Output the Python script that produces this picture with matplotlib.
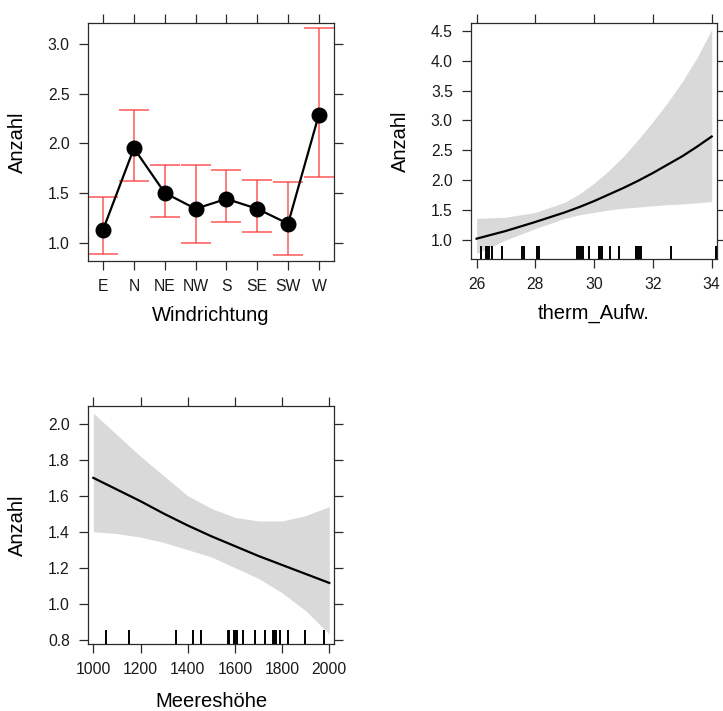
import matplotlib
matplotlib.use("Agg")
import matplotlib.pyplot as plt
from matplotlib.ticker import FormatStrFormatter, MultipleLocator

plt.rcParams["font.family"] = ["Liberation Sans", "DejaVu Sans"]

# Windrichtung effect
wind_dirs = ["E", "N", "NE", "NW", "S", "SE", "SW", "W"]
wind_fit = [1.13, 1.95, 1.50, 1.34, 1.44, 1.34, 1.19, 2.29]
wind_lower = [0.88, 1.62, 1.26, 1.00, 1.21, 1.11, 0.87, 1.66]
wind_upper = [1.46, 2.34, 1.78, 1.78, 1.73, 1.63, 1.61, 3.16]

# therm_Aufw. effect
therm_x = [26, 27, 28, 29, 29.5, 30, 30.5, 31, 31.5, 32, 32.5, 33, 33.5, 34]
therm_fit = [1.02, 1.15, 1.30, 1.46, 1.55, 1.65, 1.76, 1.87, 1.99, 2.12, 2.26, 2.40, 2.56, 2.73]
therm_lower = [0.77, 1.00, 1.19, 1.36, 1.42, 1.46, 1.50, 1.53, 1.55, 1.57, 1.59, 1.60, 1.62, 1.64]
therm_upper = [1.36, 1.38, 1.46, 1.63, 1.77, 1.95, 2.16, 2.40, 2.68, 2.98, 3.30, 3.65, 4.05, 4.52]
therm_rug = [26.14, 26.31, 26.37, 26.43, 26.53, 26.88, 27.53, 27.61, 28.06, 28.13,
             29.40, 29.48, 29.55, 29.63, 29.84, 30.15, 30.20, 30.28, 30.53, 30.83,
             31.41, 31.46, 31.52, 31.58, 32.61, 34.14]

# Meereshoehe effect
elev_x = [1000, 1100, 1200, 1300, 1400, 1500, 1600, 1700, 1800, 1900, 2000]
elev_fit = [1.70, 1.635, 1.57, 1.50, 1.435, 1.375, 1.32, 1.265, 1.215, 1.165, 1.115]
elev_lower = [1.40, 1.39, 1.37, 1.34, 1.30, 1.26, 1.20, 1.14, 1.06, 0.96, 0.83]
elev_upper = [2.06, 1.94, 1.82, 1.71, 1.60, 1.53, 1.48, 1.46, 1.46, 1.49, 1.54]
elev_rug = [1052, 1150, 1350, 1421, 1455, 1569, 1576, 1596, 1602, 1607, 1636, 1684,
            1729, 1760, 1767, 1773, 1792, 1826, 1897, 1976]

W, H = 723, 711
FRAME = "#2a2a2a"
BAND = "#d9d9d9"
TICK_FS = 11.3
LABEL_FS = 14.5


def make_axes(fig, left, top, right, bottom):
    ax = fig.add_axes([left / W, 1 - bottom / H, (right - left) / W, (bottom - top) / H])
    for s in ax.spines.values():
        s.set_color(FRAME)
        s.set_linewidth(0.9)
    ax.tick_params(direction="out", length=6.8, width=0.9, color=FRAME, pad=6.3,
                   labelsize=TICK_FS, labelcolor="#1a1a1a",
                   top=True, right=True, labeltop=False, labelright=False)
    return ax


def add_rug(ax, values):
    trans = ax.get_xaxis_transform()
    for v in values:
        ax.plot([v, v], [0, 0.057], color="black", lw=1.4, transform=trans, solid_capstyle="butt")


fig = plt.figure(figsize=(W / 100, H / 100), dpi=100)

# panel 1
ax1 = make_axes(fig, 88, 23, 334, 261)
pos = list(range(len(wind_dirs)))
yerr = [[f - lo for f, lo in zip(wind_fit, wind_lower)],
        [up - f for f, up in zip(wind_fit, wind_upper)]]
ax1.errorbar(pos, wind_fit, yerr=yerr, fmt="none", ecolor="#ff3b3b", elinewidth=1.1,
             capsize=10.8, capthick=1.1, alpha=0.85, zorder=2)
ax1.plot(pos, wind_fit, color="black", lw=1.6, marker="o", markersize=10.5, zorder=3)
ax1.set_xlim(-0.49, 7.49)
ax1.set_ylim(0.814, 3.212)
ax1.set_xticks(pos)
ax1.set_xticklabels(wind_dirs)
ax1.yaxis.set_major_locator(MultipleLocator(0.5))
ax1.yaxis.set_major_formatter(FormatStrFormatter("%.1f"))
ax1.set_xlabel("Windrichtung", fontsize=LABEL_FS)
ax1.set_ylabel("Anzahl", fontsize=LABEL_FS)
ax1.xaxis.set_label_coords(0.5, -0.19)
ax1.yaxis.set_label_coords(-0.248, 0.5)

# panel 2
ax2 = make_axes(fig, 471, 23, 717, 259)
ax2.fill_between(therm_x, therm_lower, therm_upper, color=BAND, lw=0)
ax2.plot(therm_x, therm_fit, color="black", lw=1.6)
add_rug(ax2, therm_rug)
ax2.set_xlim(25.81, 34.18)
ax2.set_ylim(0.68, 4.63)
ax2.xaxis.set_major_locator(MultipleLocator(2))
ax2.yaxis.set_major_locator(MultipleLocator(0.5))
ax2.yaxis.set_major_formatter(FormatStrFormatter("%.1f"))
ax2.set_xlabel("therm_Aufw.", fontsize=LABEL_FS)
ax2.set_ylabel("Anzahl", fontsize=LABEL_FS)
ax2.xaxis.set_label_coords(0.5, -0.19)
ax2.yaxis.set_label_coords(-0.248, 0.5)

# panel 3
ax3 = make_axes(fig, 88, 406, 334, 644)
ax3.fill_between(elev_x, elev_lower, elev_upper, color=BAND, lw=0)
ax3.plot(elev_x, elev_fit, color="black", lw=1.6)
add_rug(ax3, elev_rug)
ax3.set_xlim(977.5, 2020)
ax3.set_ylim(0.775, 2.10)
ax3.xaxis.set_major_locator(MultipleLocator(200))
ax3.yaxis.set_major_locator(MultipleLocator(0.2))
ax3.yaxis.set_major_formatter(FormatStrFormatter("%.1f"))
ax3.set_xlabel("Meereshöhe", fontsize=LABEL_FS)
ax3.set_ylabel("Anzahl", fontsize=LABEL_FS)
ax3.xaxis.set_label_coords(0.5, -0.2)
ax3.yaxis.set_label_coords(-0.248, 0.5)

fig.savefig("out.png", dpi=100)
